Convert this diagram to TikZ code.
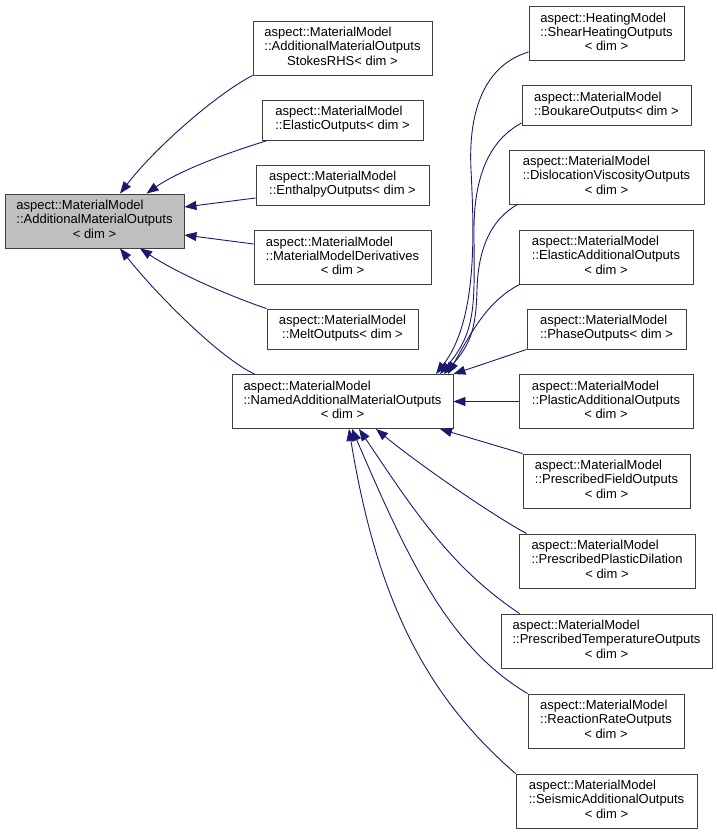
\documentclass[tikz,border=0pt]{standalone}
\usepackage{fontspec}
\setmainfont{Liberation Sans}
\usetikzlibrary{arrows.meta}
\definecolor{edgeblue}{HTML}{191970}
\newcommand{\clsname}[2]{\begin{tabular}{@{}l@{}}#1\\\multicolumn{1}{@{}c@{}}{#2}\end{tabular}}

\begin{document}
\begin{tikzpicture}[x=1pt,y=-1pt,>={Triangle[length=12pt,width=9pt]},
    class node/.style={draw=black!75,line width=0.9pt,fill=white,inner sep=0pt,minimum height=54pt,font=\fontsize{13pt}{14.2pt}\selectfont},
    short node/.style={class node,minimum height=40pt},
    inherit/.style={->,draw=edgeblue,line width=0.9pt}]
    \useasboundingbox (0,0) rectangle (717,833);

    % base class
    \node[class node,fill=black!25,minimum width=179pt] (1) at (94.5,221) {\clsname{aspect::MaterialModel\\::AdditionalMaterialOutputs}{< dim >}};

    % middle column
    \node[class node,minimum width=179pt] (2) at (342.5,48) {\clsname{aspect::MaterialModel\\::AdditionalMaterialOutputs}{StokesRHS< dim >}};
    \node[short node,minimum width=161pt] (3) at (342.5,120) {\clsname{aspect::MaterialModel}{::ElasticOutputs< dim >}};
    \node[short node,minimum width=173pt] (4) at (342.5,185) {\clsname{aspect::MaterialModel}{::EnthalpyOutputs< dim >}};
    \node[class node,minimum width=177pt] (5) at (342.5,257.5) {\clsname{aspect::MaterialModel\\::MaterialModelDerivatives}{< dim >}};
    \node[short node,minimum width=151pt] (6) at (342.5,329) {\clsname{aspect::MaterialModel}{::MeltOutputs< dim >}};
    \node[class node,minimum width=221pt] (7) at (342.5,401.5) {\clsname{aspect::MaterialModel\\::NamedAdditionalMaterialOutputs}{< dim >}};

    % right column
    \node[class node,minimum width=155pt] (8) at (606.5,33.5) {\clsname{aspect::HeatingModel\\::ShearHeatingOutputs}{< dim >}};
    \node[short node,minimum width=169pt] (9) at (606.5,105.5) {\clsname{aspect::MaterialModel}{::BoukareOutputs< dim >}};
    \node[class node,minimum width=195pt] (10) at (606.5,177) {\clsname{aspect::MaterialModel\\::DislocationViscosityOutputs}{< dim >}};
    \node[class node,minimum width=174pt] (11) at (606,257) {\clsname{aspect::MaterialModel\\::ElasticAdditionalOutputs}{< dim >}};
    \node[short node,minimum width=159pt] (12) at (606.5,329) {\clsname{aspect::MaterialModel}{::PhaseOutputs< dim >}};
    \node[class node,minimum width=174pt] (13) at (606,401.5) {\clsname{aspect::MaterialModel\\::PlasticAdditionalOutputs}{< dim >}};
    \node[class node,minimum width=167pt] (14) at (606.5,481) {\clsname{aspect::MaterialModel\\::PrescribedFieldOutputs}{< dim >}};
    \node[class node,minimum width=176pt] (15) at (607,561) {\clsname{aspect::MaterialModel\\::PrescribedPlasticDilation}{< dim >}};
    \node[class node,minimum width=211pt] (16) at (606.5,641) {\clsname{aspect::MaterialModel\\::PrescribedTemperatureOutputs}{< dim >}};
    \node[class node,minimum width=156pt] (17) at (606,721) {\clsname{aspect::MaterialModel\\::ReactionRateOutputs}{< dim >}};
    \node[class node,minimum width=181pt] (18) at (606.5,801) {\clsname{aspect::MaterialModel\\::SeismicAdditionalOutputs}{< dim >}};

    % inheritance into (1)
    \draw[inherit] (2.south west) .. controls (215,95) and (154,149) .. ([xshift=25.5pt]1.north);
    \draw[inherit] ([xshift=6pt]3.south west) .. controls (230,152) and (180,170) .. ([xshift=52pt]1.north);
    \draw[inherit] ([yshift=-13pt]4.west) -- ([yshift=14pt]1.east);
    \draw[inherit] ([yshift=13.5pt]5.west) -- ([yshift=-14pt]1.east);
    \draw[inherit] (6.north west) .. controls (235,298) and (180,275) .. ([xshift=45.5pt]1.south);
    \draw[inherit] ([xshift=23pt]7.north west) .. controls (220,358) and (158,296) .. ([xshift=25.5pt]1.south);

    % inheritance into (7)
    \draw[inherit] ([yshift=-18.5pt]8.west) .. controls (485,65) and (468,110) .. (471,170) .. controls (474,230) and (478,320) .. ([xshift=93.5pt]7.north);
    \draw[inherit] ([yshift=-17.5pt]9.west) .. controls (490,140) and (474,175) .. (474,230) .. controls (474,300) and (478,330) .. ([xshift=97.5pt]7.north);
    \draw[inherit] ([xshift=9pt]10.south west) .. controls (490,220) and (478,250) .. (477,290) .. controls (476,330) and (470,345) .. ([xshift=101.5pt]7.north);
    \draw[inherit] ([xshift=1pt]11.south west) .. controls (490,300) and (475,325) .. ([xshift=105.5pt]7.north);
    \draw[inherit] (12.south west) -- (7.north east);
    \draw[inherit] (13.west) -- (7.east);
    \draw[inherit] (14.north west) -- ([xshift=97.5pt]7.south);
    \draw[inherit] ([xshift=8pt]15.north west) .. controls (487,512) and (412,459) .. ([xshift=33.5pt]7.south);
    \draw[inherit] ([xshift=19pt]16.north west) .. controls (450,567) and (413,509) .. ([xshift=16.5pt]7.south);
    \draw[inherit] (17.north west) .. controls (448,646) and (408,559) .. ([xshift=9.5pt]7.south);
    \draw[inherit] (18.north west) .. controls (426,696) and (377,600) .. ([xshift=6.5pt]7.south);
\end{tikzpicture}
\end{document}
